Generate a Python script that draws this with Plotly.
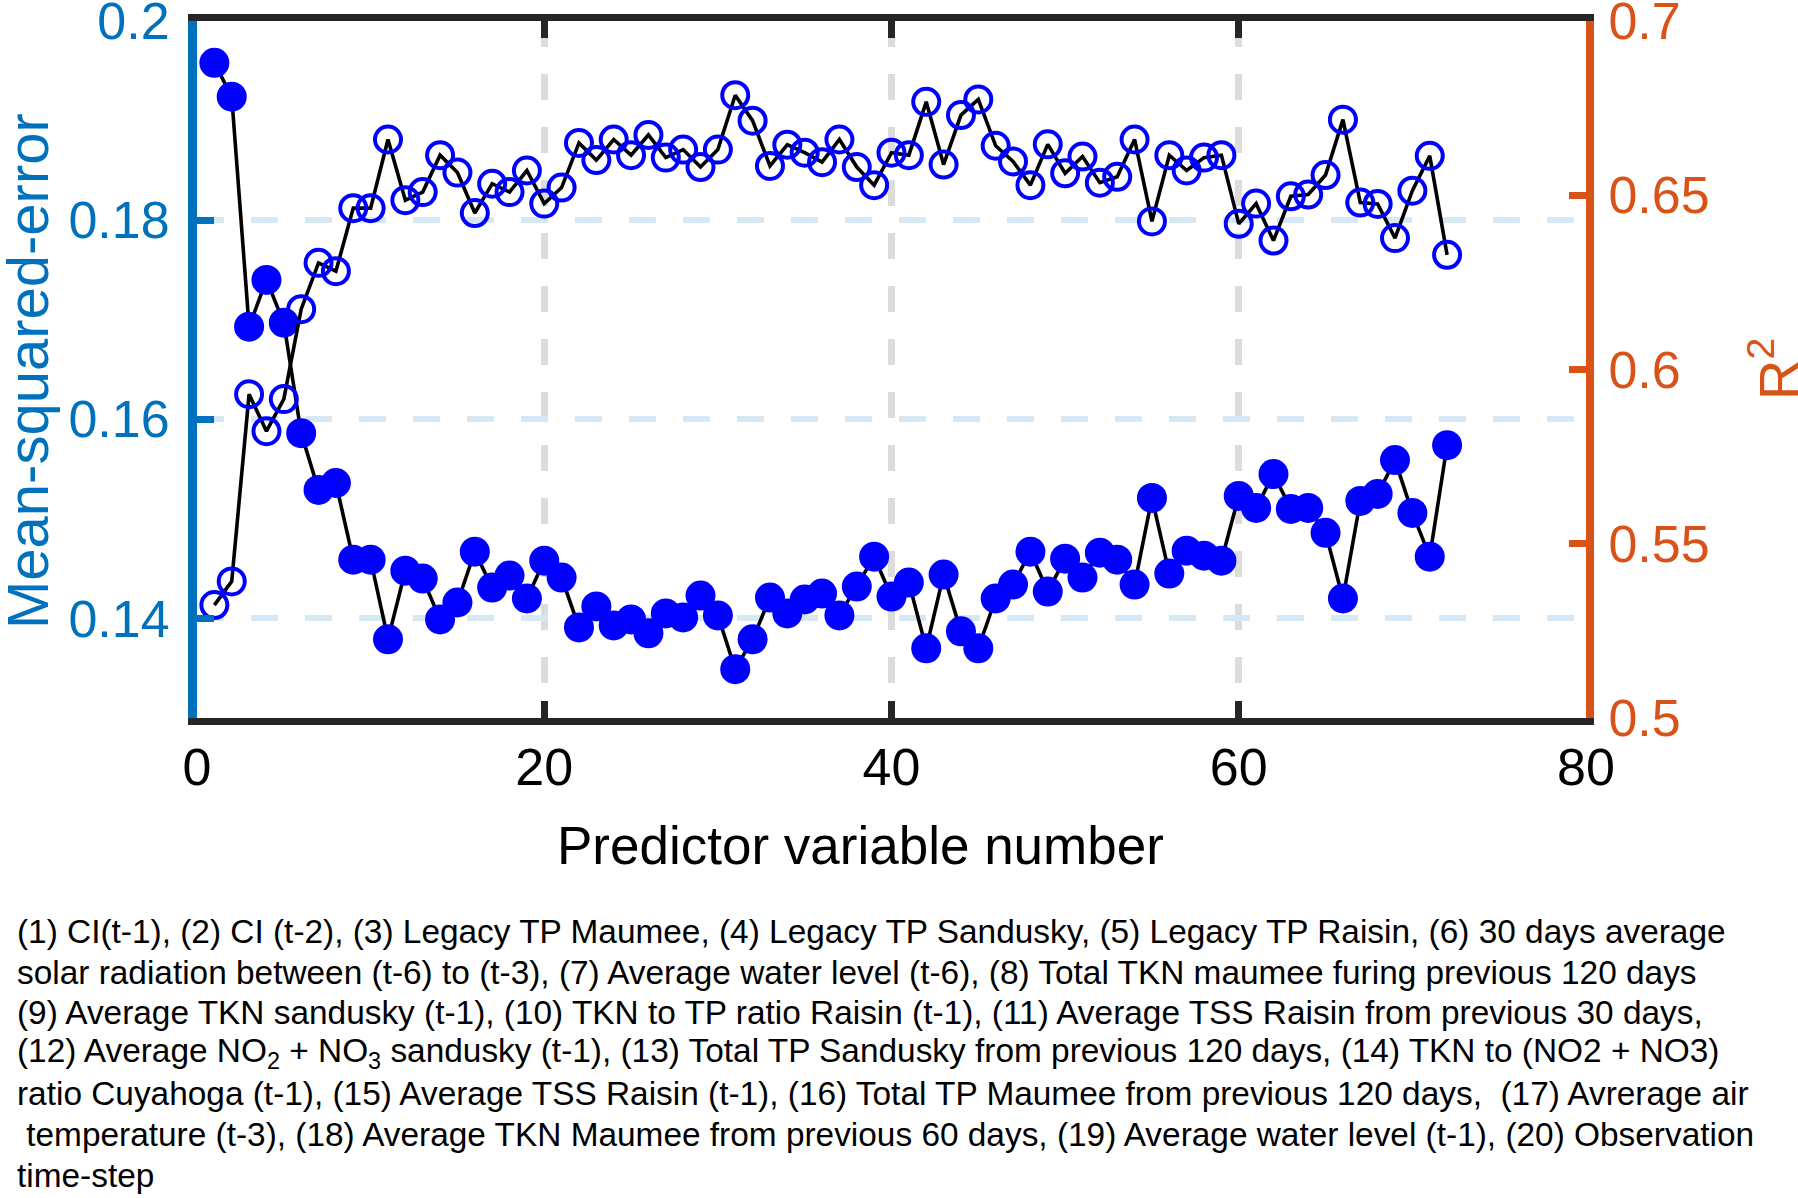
import plotly.graph_objects as go

# ---------------- data ----------------
predictor_number = list(range(1, 73))

mse = [0.1958, 0.1924, 0.1693, 0.1740, 0.1697, 0.1586, 0.1529, 0.1536, 0.1459, 0.1459,
       0.1379, 0.1448, 0.1440, 0.1399, 0.1416, 0.1467, 0.1431, 0.1443, 0.1420, 0.1458,
       0.1441, 0.1391, 0.1412, 0.1393, 0.1399, 0.1385, 0.1405, 0.1401, 0.1423, 0.1403,
       0.1349, 0.1379, 0.1421, 0.1405, 0.1419, 0.1425, 0.1403, 0.1432, 0.1462, 0.1422,
       0.1436, 0.1370, 0.1444, 0.1387, 0.1370, 0.1420, 0.1434, 0.1467, 0.1427, 0.1460,
       0.1441, 0.1466, 0.1459, 0.1434, 0.1521, 0.1445, 0.1468, 0.1463, 0.1458, 0.1523,
       0.1511, 0.1545, 0.1510, 0.1511, 0.1486, 0.1420, 0.1518, 0.1525, 0.1559, 0.1506,
       0.1462, 0.1574]

r2 = [0.5324, 0.5392, 0.5929, 0.5823, 0.5915, 0.6173, 0.6306, 0.6282, 0.6463, 0.6463,
      0.6660, 0.6486, 0.6509, 0.6615, 0.6565, 0.6449, 0.6533, 0.6509, 0.6571, 0.6476,
      0.6522, 0.6650, 0.6601, 0.6660, 0.6615, 0.6673, 0.6608, 0.6631, 0.6581, 0.6631,
      0.6787, 0.6714, 0.6584, 0.6645, 0.6622, 0.6595, 0.6660, 0.6581, 0.6529, 0.6622,
      0.6615, 0.6768, 0.6588, 0.6730, 0.6775, 0.6642, 0.6597, 0.6529, 0.6646, 0.6563,
      0.6611, 0.6536, 0.6553, 0.6660, 0.6425, 0.6615, 0.6571, 0.6608, 0.6615, 0.6418,
      0.6476, 0.6370, 0.6497, 0.6502, 0.6558, 0.6717, 0.6479, 0.6475, 0.6377, 0.6513,
      0.6613, 0.6329]

x_ticks = [0, 20, 40, 60, 80]
x_tick_labels = ["0", "20", "40", "60", "80"]
mse_ticks = [0.14, 0.16, 0.18, 0.2]
mse_tick_labels = ["0.14", "0.16", "0.18", "0.2"]
r2_ticks = [0.5, 0.55, 0.6, 0.65, 0.7]
r2_tick_labels = ["0.5", "0.55", "0.6", "0.65", "0.7"]

x_title = "Predictor variable number"
y_title = "Mean-squared-error"
y2_title = "R<sup>2</sup>"
caption_lines = [
    "(1) CI(t-1), (2) CI (t-2), (3) Legacy TP Maumee, (4) Legacy TP Sandusky, (5) Legacy TP Raisin, (6) 30 days average",
    "solar radiation between (t-6) to (t-3), (7) Average water level (t-6), (8) Total TKN maumee furing previous 120 days",
    "(9) Average TKN sandusky (t-1), (10) TKN to TP ratio Raisin (t-1), (11) Average TSS Raisin from previous 30 days,",
    "(12) Average NO<sub>2</sub> + NO<sub>3</sub> sandusky (t-1), (13) Total TP Sandusky from previous 120 days, (14) TKN to (NO2 + NO3)",
    "ratio Cuyahoga (t-1), (15) Average TSS Raisin (t-1), (16) Total TP Maumee from previous 120 days,  (17) Avrerage air",
    " temperature (t-3), (18) Average TKN Maumee from previous 60 days, (19) Average water level (t-1), (20) Observation",
    "time-step",
]

# ---------------- style ----------------
FONT = "Liberation Sans, Arial, sans-serif"
BLUE_AX = "#0072BD"
ORANGE_AX = "#D95319"
MARK = "#0000FF"
W, H = 1798, 1198
ML, MR, MT, MB = 197, 212, 21, 480
plot_w = W - ML - MR
plot_h = H - MT - MB


def px_x(px):
    return (px - ML) / plot_w


def px_y(py):
    return (H - MB - py) / plot_h


fig = go.Figure()

fig.add_trace(go.Scatter(
    x=predictor_number, y=mse, mode="lines+markers",
    line=dict(color="black", width=3.6),
    marker=dict(symbol="circle", size=30, color=MARK),
    yaxis="y", showlegend=False,
))
fig.add_trace(go.Scatter(
    x=predictor_number, y=r2, mode="lines+markers",
    line=dict(color="black", width=3.6),
    marker=dict(symbol="circle-open", size=26, color=MARK, line=dict(width=4, color=MARK)),
    yaxis="y2", showlegend=False,
))

fig.update_layout(
    width=W, height=H,
    margin=dict(l=ML, r=MR, t=MT, b=MB, pad=0, autoexpand=False),
    paper_bgcolor="white", plot_bgcolor="white",
    font=dict(family=FONT, color="black"),
    xaxis=dict(
        range=[0, 80], tickvals=x_ticks, ticktext=x_tick_labels,
        tickfont=dict(size=52, color="black"), automargin=False,
        showline=True, linecolor="#262626", linewidth=7, mirror="ticks",
        ticks="inside", ticklen=17, tickwidth=7, tickcolor="#262626",
        showgrid=True, gridcolor="#dcdcdc", gridwidth=7, griddash="26px,27px",
        zeroline=False, ticklabelstandoff=-2, ticklabeloverflow="allow",
    ),
    yaxis=dict(
        range=[0.13, 0.2], tickvals=mse_ticks, ticktext=mse_tick_labels,
        tickfont=dict(size=52, color=BLUE_AX), automargin=False,
        showline=True, linecolor=BLUE_AX, linewidth=9,
        ticks="inside", ticklen=17, tickwidth=7, tickcolor=BLUE_AX,
        showgrid=True, gridcolor="#d6e8f4", gridwidth=6, griddash="27px,27px",
        zeroline=False, ticklabelstandoff=8, ticklabeloverflow="allow",
    ),
    yaxis2=dict(
        range=[0.5, 0.7], tickvals=r2_ticks, ticktext=r2_tick_labels,
        overlaying="y", side="right", anchor="x", automargin=False,
        tickfont=dict(size=52, color=ORANGE_AX),
        showline=True, linecolor=ORANGE_AX, linewidth=8,
        ticks="inside", ticklen=17, tickwidth=7, tickcolor=ORANGE_AX,
        showgrid=False, zeroline=False, ticklabelstandoff=4, ticklabeloverflow="allow",
    ),
)

# axis titles, placed as in the reference
fig.add_annotation(
    text=x_title, xref="paper", yref="paper",
    x=px_x(860), y=px_y(845), xanchor="center", yanchor="middle", showarrow=False,
    font=dict(size=53, color="black", family=FONT),
)
fig.add_annotation(
    text=y_title, xref="paper", yref="paper", textangle=-90,
    x=px_x(27), y=px_y(371), xanchor="center", yanchor="middle", showarrow=False,
    font=dict(size=58, color=BLUE_AX, family=FONT),
)
fig.add_annotation(
    text=y2_title, xref="paper", yref="paper", textangle=-90,
    x=px_x(1774), y=px_y(369), xanchor="center", yanchor="middle", showarrow=False,
    font=dict(size=56, color=ORANGE_AX, family=FONT),
)

caption_centers_px = [931, 972, 1012, 1053, 1093, 1134, 1175]
for line, cy in zip(caption_lines, caption_centers_px):
    fig.add_annotation(
        text=line, xref="paper", yref="paper",
        x=px_x(16), y=px_y(cy),
        xanchor="left", yanchor="middle", showarrow=False, align="left",
        borderpad=0,
        font=dict(size=33.4, color="black", family=FONT),
    )

fig.write_html(
    "out.html",
    config={"displayModeBar": False},
    post_script="document.body.style.margin='0px';",
)
